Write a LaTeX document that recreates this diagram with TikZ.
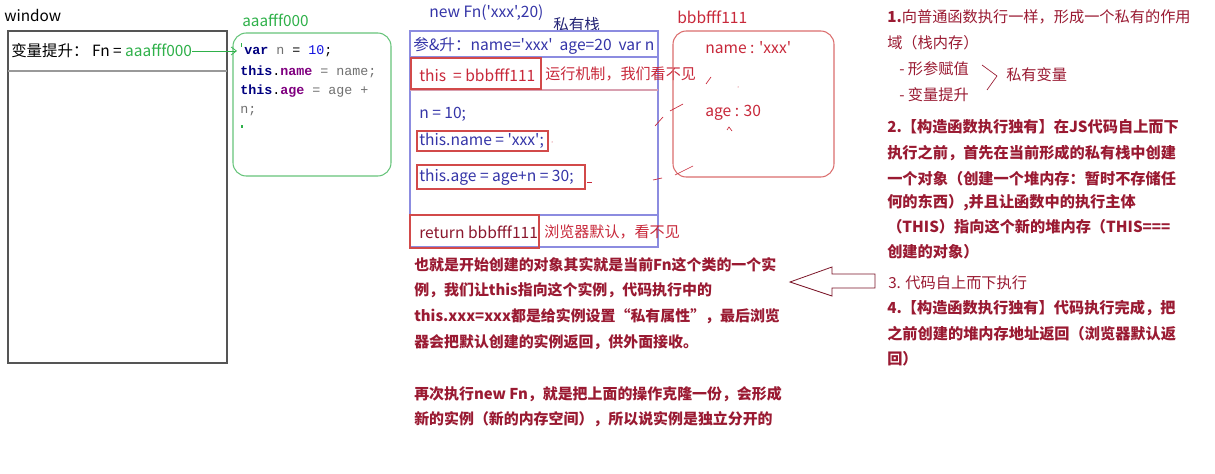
\documentclass[tikz,border=0pt]{standalone}
\usepackage{fontspec}
\setmainfont{Noto Sans CJK SC}
\newfontfamily\cjk{Noto Sans CJK SC}
\newfontfamily\codefont{Liberation Mono}
\usetikzlibrary{arrows.meta,fit}
\definecolor{winc}{HTML}{555555}
\definecolor{gtxt}{HTML}{2FB14A}
\definecolor{gbox}{HTML}{66C47A}
\definecolor{btxt}{HTML}{3535A8}
\definecolor{bbox}{HTML}{8C8CE0}
\definecolor{rtxt}{HTML}{C8283A}
\definecolor{rbox}{HTML}{D24A4A}
\definecolor{dred}{HTML}{9A1A32}
\definecolor{navy}{HTML}{000080}
\definecolor{purp}{HTML}{800080}
\definecolor{cgray}{HTML}{707070}
\definecolor{cblue}{HTML}{1010E0}
\definecolor{sepc}{HTML}{D8A0B0}
\tikzset{
  lbl/.style={inner sep=0pt, anchor=west, font=\fontsize{11}{13}\cjk},
  bl/.style={lbl, text=btxt, font=\fontsize{11.7}{13}\cjk},
  rl/.style={lbl, text=rtxt, font=\fontsize{11.7}{13}\cjk},
  dl/.style={lbl, text=dred, font=\fontsize{11.4}{13}\cjk\bfseries},
  dln/.style={lbl, text=dred, font=\fontsize{11.4}{13}\cjk},
  ml/.style={lbl, text=dred, font=\fontsize{11.2}{13}\cjk\bfseries},
  code/.style={inner sep=0pt, anchor=west, font=\fontsize{10}{12}\codefont},
  box/.style={inner sep=0pt, draw},
  redbox/.style={box, draw=rbox, line width=0.8pt},
  tick/.style={draw=rtxt, line width=0.5pt},
}
\begin{document}
\begin{tikzpicture}[x=0.75pt,y=-0.75pt]
\useasboundingbox[fill=white] (0,0) rectangle (1215,474);

% ---------- window ----------
\node[lbl, font=\fontsize{11.5}{13}\cjk] (wtitle) at (4,15) {window};
\node[box, draw=winc, line width=0.9pt, fit={(8,31)(227,363)}] (winbox) {};
\draw[draw=gray!80, line width=1.2pt] (8,71) -- (227,71);
\node[lbl, font=\fontsize{11.6}{13}\cjk] (fnvar) at (11,51) {变量提升： Fn = \textcolor{gtxt}{aaafff000}};

% ---------- heap aaafff000 ----------
\node[lbl, text=gtxt, font=\fontsize{11.5}{13}\cjk] (aaalbl) at (242,20) {aaafff000};
\node[box, draw=gbox, line width=0.8pt, rounded corners=10pt, fit={(233,33)(391,176)}] (codebox) {};
\draw[gtxt, line width=0.5pt, -{Straight Barb[length=4pt,width=6pt]}] (fnvar.east) -- (237,51);
\fill[gtxt] (240.5,43) rectangle (241.8,47);
\node[code] (c1) at (244,51) {\textbf{\textcolor{navy}{var}} \textcolor{cgray}{n} = \textcolor{cblue}{10};};
\node[code] (c2) at (240,72) {\textbf{\textcolor{navy}{this}}.\textbf{\textcolor{purp}{name}} \textcolor{cgray}{= name;}};
\node[code] (c3) at (240,91) {\textbf{\textcolor{navy}{this}}.\textbf{\textcolor{purp}{age}} \textcolor{cgray}{= age +}};
\node[code] (c4) at (240,111) {\textcolor{cgray}{n;}};
\fill[gtxt] (240.5,125.5) rectangle (242.5,128);

% ---------- private stack ----------
\node[bl] (newfn) at (429,13) {new Fn('xxx',20)};
\node[bl, text=btxt!70!black] (stlbl) at (553,25) {私有栈};
\node[box, draw=bbox, line width=0.8pt, fit={(410,31)(658,247)}] (stack) {};
\draw[bbox, line width=0.8pt] (410,57) -- (658,57);
\draw[sepc, line width=0.8pt] (410,90) -- (658,90);
\draw[bbox, line width=0.8pt] (410,215) -- (658,215);
\node[bl] (row1) at (413,46) {参\&升：name='xxx'\ \ age=20\ \ var n};
\node[redbox, fit={(411,58)(541,89)}] (thisbox) {};
\node[rl] (thistxt) at (419,75) {this\ \ = bbbfff111};
\node[rl, font=\fontsize{11.3}{13}\cjk] (note1) at (545,74) {运行机制，我们看不见};
\node[bl] (n10) at (419,114) {n = 10;};
\node[redbox, fit={(417,131)(548,151)}] (namebox) {};
\node[bl] (nametxt) at (419,141) {this.name = 'xxx';};
\node[redbox, fit={(417,165)(585,189)}] (agebox) {};
\node[bl] (agetxt) at (419,177) {this.age = age+n = 30;};
\node[redbox, fit={(410,215)(539,248)}] (retbox) {};
\node[rl, text=dred!90!black] (rettxt) at (419,232) {return bbbfff111};
\node[rl, font=\fontsize{11.3}{13}\cjk] (note2) at (544,232) {浏览器默认，看不见};

% ---------- heap bbbfff111 ----------
\node[rl] (bbblbl) at (677,17) {bbbfff111};
\node[box, draw=rbox!80, line width=0.8pt, rounded corners=10pt, fit={(673,31)(834,177)}] (objbox) {};
\node[rl] (objname) at (705,48) {name : 'xxx'};
\node[rl] (objage) at (705,113) {age : 30};
% hand-drawn ticks
\draw[tick] (706,84) -- (711,77);
\fill[rtxt] (738,87) circle (0.5);
\draw[tick] (655,126) -- (663,117);
\draw[tick] (670,111) -- (683,104);
\draw[tick] (727,130) -- (729,127) -- (732,131);
\draw[tick] (653,180) -- (662,178);
\draw[tick] (675,175) -- (693,166);
\draw[tick] (587,182) -- (592,182);
\fill[rtxt] (552,142) circle (0.5);

% ---------- explanation (middle) ----------
\node[ml] (m1) at (414,265) {也就是开始创建的对象其实就是当前Fn这个类的一个实};
\node[ml] (m2) at (414,290) {例，我们让this指向这个实例，代码执行中的};
\node[ml] (m3) at (414,316) {this.xxx=xxx都是给实例设置“私有属性”，最后浏览};
\node[ml] (m4) at (414,342) {器会把默认创建的实例返回，供外面接收。};
\node[ml] (m5) at (414,394) {再次执行new Fn，就是把上面的操作克隆一份，会形成};
\node[ml] (m6) at (414,419) {新的实例（新的内存空间），所以说实例是独立分开的};

% hollow arrow
\draw[dred!80!black, line width=0.6pt, line join=miter]
  (790,282) -- (832,267) -- (832,274) -- (875,274) -- (875,288) -- (832,288) -- (832,296) -- cycle;

% ---------- steps (right) ----------
\node[dln] (s1a) at (887,17) {\textbf{1.}向普通函数执行一样，形成一个私有的作用};
\node[dln] (s1b) at (887,43) {域（栈内存）};
\node[dln] (s1c) at (899,69) {- 形参赋值};
\node[dln] (s1d) at (899,95) {- 变量提升};
\draw[dred, line width=0.5pt] (982,65) -- (997,76) -- (987,90);
\node[dln] (s1e) at (1006,75) {私有变量};
\node[dl] (s2a) at (887,127) {2.【构造函数执行独有】在JS代码自上而下};
\node[dl] (s2b) at (887,153) {执行之前，首先在当前形成的私有栈中创建};
\node[dl] (s2c) at (887,179) {一个对象（创建一个堆内存：暂时不存储任};
\node[dl] (s2d) at (887,203) {何的东西）,并且让函数中的执行主体};
\node[dl] (s2e) at (887,227) {（THIS）指向这个新的堆内存（THIS===};
\node[dl] (s2f) at (887,252) {创建的对象）};
\node[dln] (s3) at (888,283) {3. 代码自上而下执行};
\node[dl] (s4a) at (887,308) {4.【构造函数执行独有】代码执行完成，把};
\node[dl] (s4b) at (887,334) {之前创建的堆内存地址返回（浏览器默认返};
\node[dl] (s4c) at (887,359) {回）};
\end{tikzpicture}
\end{document}
